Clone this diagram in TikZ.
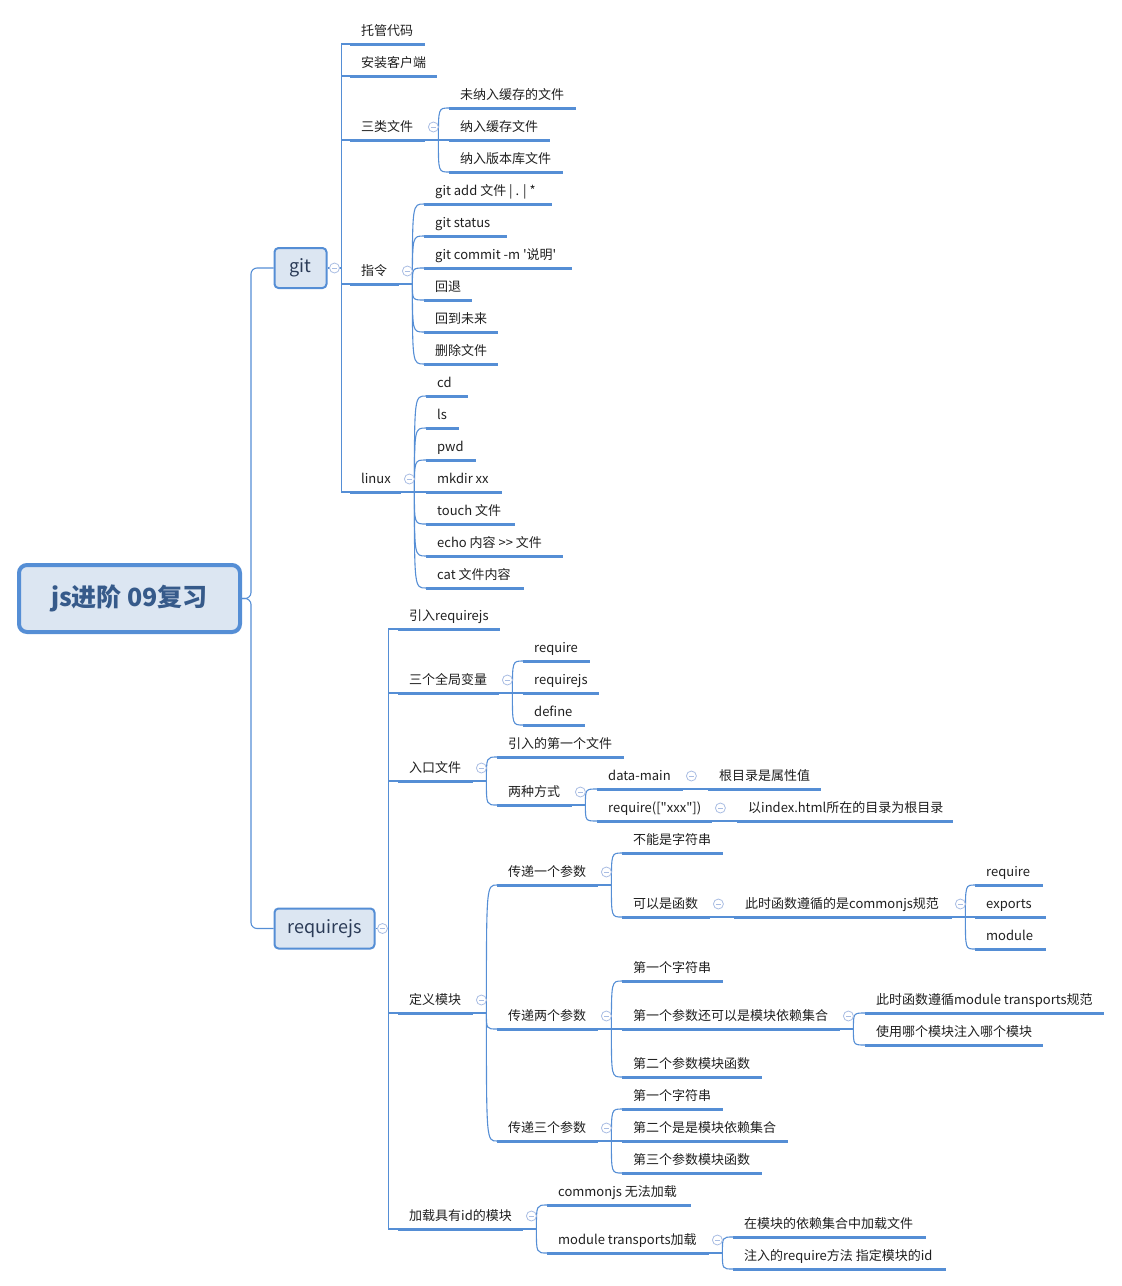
\documentclass[tikz,border=0pt]{standalone}
\usepackage{fontspec}
\setmainfont{Noto Sans CJK SC}[Ligatures=TeXOff]
\usetikzlibrary{calc}

\definecolor{lnc}{HTML}{558ED5}
\definecolor{boxf}{HTML}{DCE6F2}
\definecolor{foldc}{HTML}{A9BDE3}
\definecolor{roott}{HTML}{365A8A}
\definecolor{boxt}{HTML}{2B3B57}

\tikzset{
  ul/.style={draw=lnc,line width=3pt},
  cn/.style={draw=lnc,line width=1.1pt},
  tp/.style={anchor=south west,inner xsep=11pt,inner ysep=5pt,
    text height=11pt,text depth=3pt,
    execute at begin node={\hbox to #1\bgroup},execute at end node={\hss\egroup},
    text=black!88,font=\fontsize{13}{15}\selectfont,
    append after command={(\tikzlastnode.south west) edge[ul] (\tikzlastnode.south east)}},
  bx/.style={draw=lnc,fill=boxf,line width=2pt,rounded corners=4pt,
    minimum height=40pt,inner sep=0pt,text=boxt,font=\fontsize{18}{20}\selectfont},
  root/.style={draw=lnc,fill=boxf,line width=4pt,rounded corners=8pt,
    minimum width=221pt,minimum height=67pt,inner sep=0pt,text=roott,
    font=\bfseries\fontsize{25}{28}\selectfont},
  fold/.style={circle,draw=foldc,fill=white,line width=0.8pt,minimum size=10pt,inner sep=0pt,
    path picture={\draw[foldc,line width=0.8pt]
      ([xshift=-2.6pt]path picture bounding box.center) -- ([xshift=2.6pt]path picture bounding box.center);}}
}

\begin{document}
\begin{tikzpicture}[x=1pt,y=-1pt]
  \useasboundingbox (0,0) rectangle (1122,1286);

  % central topic and the two main branches
  \node[root] (root) at (129.5,598.5) {js进阶 09复习};
  \node[bx,minimum width=52pt] (git) at (300.5,268) {git};
  \node[bx,minimum width=100pt] (req) at (324.5,928.5) {requirejs};
  \draw[cn,rounded corners=6pt] (root.east) -- ++(9,0) |- (git.west);
  \draw[cn,rounded corners=6pt] (root.east) -- ++(9,0) |- (req.west);

  % git
  \node[tp=53pt] (g1) at (350,44) {托管代码};
  \node[tp=65pt] (g2) at (350,76) {安装客户端};
  \node[tp=53pt] (g3) at (350,140) {三类文件};
  \node[tp=105pt] (g31) at (449,108) {未纳入缓存的文件};
  \node[tp=79pt] (g32) at (449,140) {纳入缓存文件};
  \node[tp=92pt] (g33) at (449,172) {纳入版本库文件};
  \node[tp=27pt] (g4) at (350,284) {指令};
  \node[tp=106pt] (g41) at (424,204) {git add 文件 | . | *};
  \node[tp=61pt] (g42) at (424,236) {git status};
  \node[tp=126pt] (g43) at (424,268) {git commit -m '说明'};
  \node[tp=26pt] (g44) at (424,300) {回退};
  \node[tp=52pt] (g45) at (424,332) {回到未来};
  \node[tp=52pt] (g46) at (424,364) {删除文件};
  \node[tp=29pt] (g5) at (350,492) {linux};
  \node[tp=20pt] (g51) at (426,396) {cd};
  \node[tp=11pt] (g52) at (426,428) {ls};
  \node[tp=28pt] (g53) at (426,460) {pwd};
  \node[tp=54pt] (g54) at (426,492) {mkdir xx};
  \node[tp=67pt] (g55) at (426,524) {touch 文件};
  \node[tp=115pt] (g56) at (426,556) {echo 内容 >> 文件};
  \node[tp=76pt] (g57) at (426,588) {cat 文件内容};

  % requirejs
  \node[tp=80pt] (r1) at (398,629) {引入requirejs};
  \node[tp=79pt] (r2) at (398,693) {三个全局变量};
  \node[tp=45pt] (r21) at (523,661) {require};
  \node[tp=54pt] (r22) at (523,693) {requirejs};
  \node[tp=40pt] (r23) at (523,725) {define};
  \node[tp=53pt] (r3) at (398,781) {入口文件};
  \node[tp=105pt] (r31) at (497,757) {引入的第一个文件};
  \node[tp=53pt] (r32) at (497,805) {两种方式};
  \node[tp=64pt] (r321) at (597,789) {data-main};
  \node[tp=91pt] (r3211) at (708,789) {根目录是属性值};
  \node[tp=93pt] (r322) at (597,821) {require(["xxx"])};
  \node[tp=194pt] (r3221) at (737,821) {以index.html所在的目录为根目录};
  \node[tp=53pt] (r4) at (398,1013) {定义模块};
  \node[tp=79pt] (r41) at (497,885) {传递一个参数};
  \node[tp=79pt] (r411) at (622,853) {不能是字符串};
  \node[tp=66pt] (r412) at (622,917) {可以是函数};
  \node[tp=196pt] (r4121) at (734,917) {此时函数遵循的是commonjs规范};
  \node[tp=46pt] (r41211) at (975,885) {require};
  \node[tp=49pt] (r41212) at (975,917) {exports};
  \node[tp=49pt] (r41213) at (975,949) {module};
  \node[tp=79pt] (r42) at (497,1029) {传递两个参数};
  \node[tp=79pt] (r421) at (622,981) {第一个字符串};
  \node[tp=196pt] (r422) at (622,1029) {第一个参数还可以是模块依赖集合};
  \node[tp=217pt] (r4221) at (865,1013) {此时函数遵循module transports规范};
  \node[tp=156pt] (r4222) at (865,1045) {使用哪个模块注入哪个模块};
  \node[tp=118pt] (r423) at (622,1077) {第二个参数模块函数};
  \node[tp=79pt] (r43) at (497,1141) {传递三个参数};
  \node[tp=79pt] (r431) at (622,1109) {第一个字符串};
  \node[tp=144pt] (r432) at (622,1141) {第二个是是模块依赖集合};
  \node[tp=118pt] (r433) at (622,1173) {第三个参数模块函数};
  \node[tp=103pt] (r5) at (398,1229) {加载具有id的模块};
  \node[tp=122pt] (r51) at (547,1205) {commonjs 无法加载};
  \node[tp=140pt] (r52) at (547,1253) {module transports加载};
  \node[tp=171pt] (r521) at (733,1237) {在模块的依赖集合中加载文件};
  \node[tp=191pt] (r522) at (733,1269) {注入的require方法 指定模块的id};

  % elbow links from the two boxes
  \draw[cn] (git.east) -- ++(14,0) coordinate (gj);
  \foreach \c in {g1,g2,g3,g4,g5}
    \draw[cn] (gj) |- (\c.south west);
  \draw[cn] (req.east) -- ++(13,0) coordinate (rj);
  \foreach \c in {r1,r2,r3,r4,r5}
    \draw[cn] (rj) |- (\c.south west);

  % curved links
  \foreach \p/\cs in {g3/{g31,g32,g33},g4/{g41,g42,g43,g44,g45,g46},
      g5/{g51,g52,g53,g54,g55,g56,g57},r2/{r21,r22,r23},r3/{r31,r32},
      r32/{r321,r322},r321/{r3211},r322/{r3221},r4/{r41,r42,r43},
      r41/{r411,r412},r412/{r4121},r4121/{r41211,r41212,r41213},
      r42/{r421,r422,r423},r422/{r4221,r4222},r43/{r431,r432,r433},
      r5/{r51,r52},r52/{r521,r522}} {
    \draw[cn] (\p.south east) -- ++(13,0) coordinate (j);
    \foreach \c in \cs
      \draw[cn] (j) .. controls (j |- \c.south west) .. (\c.south west);
  }

  % collapse marks
  \node[fold] (fgit) at ($(git.east)+(7,0)$) {};
  \node[fold] (freq) at ($(req.east)+(7,0)$) {};
  \foreach \p in {g3,g4,g5,r2,r3,r32,r321,r322,r4,r41,r412,r4121,r42,r422,r43,r5,r52}
    \node[fold] (f\p) at ($(\p.south east)+(8,-13)$) {};
\end{tikzpicture}
\end{document}
